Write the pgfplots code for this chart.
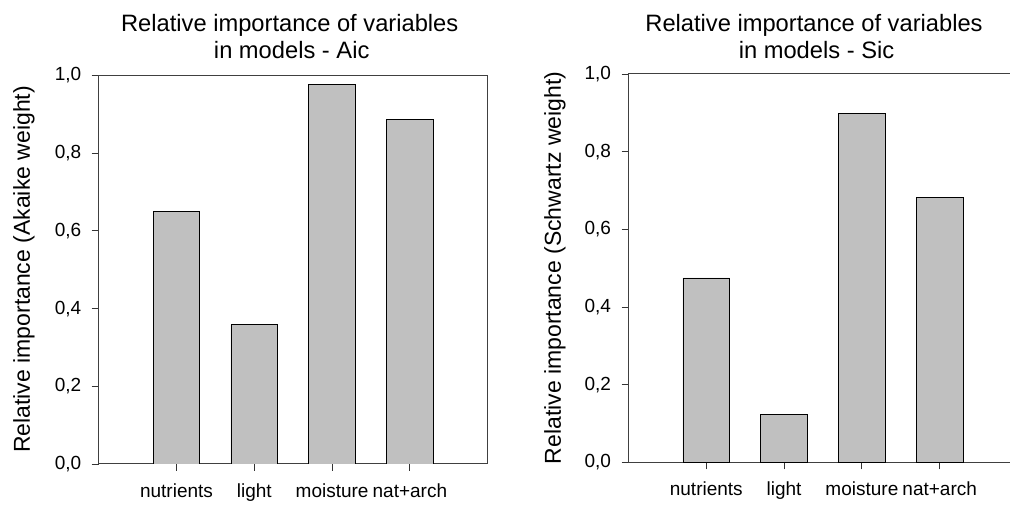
\documentclass[border=0pt]{standalone}
\usepackage{pgfplots}
\pgfplotsset{compat=1.18}
\usepackage{fontspec}
\setmainfont{Liberation Sans}
\definecolor{bargray}{RGB}{192,192,192}
\newcommand{\tickfont}{\fontsize{19}{22}\selectfont}
\newcommand{\labelfont}{\fontsize{23}{26}\selectfont}
\newcommand{\titlefont}{\fontsize{23.7}{27}\selectfont}
\pgfplotsset{relimp/.style={
  scale only axis, width=389pt, height=388.5pt,
  xmin=-1, xmax=4, ymin=0, ymax=1,
  xtick={0,1,2,3}, xticklabels={nutrients,light,moisture,nat+arch},
  ytick={0,0.2,0.4,0.6,0.8,1},
  tick align=outside, tick pos=left, major tick length=7pt,
  tick style={line width=0.9pt, color=black!80},
  axis line style={line width=1pt, color=black!75},
  /pgf/number format/use comma, /pgf/number format/fixed,
  /pgf/number format/fixed zerofill, /pgf/number format/precision=1,
  /pgf/number format/assume math mode=true,
  tick label style={font=\tickfont},
  xticklabel style={yshift=-9pt},
  yticklabel style={xshift=-7pt},
  ybar, bar width=0.6,
}}
\begin{document}
\begin{tikzpicture}[x=1pt,y=1pt]
\path[use as bounding box] (0,0) rectangle (1010,505);
\clip (0,0) rectangle (1010,505);
% left panel: Akaike weights
\begin{axis}[relimp, at={(98.7pt,41pt)}, anchor=south west]
\addplot[fill=bargray, draw=black, line width=0.9pt] coordinates {(0,0.651) (1,0.358) (2,0.978) (3,0.887)};
\end{axis}
% right panel: Schwartz weights
\begin{axis}[relimp, at={(628.5pt,42.5pt)}, anchor=south west]
\addplot[fill=bargray, draw=black, line width=0.9pt] coordinates {(0,0.475) (1,0.123) (2,0.898) (3,0.683)};
\end{axis}
%labels
\node[rotate=90, font=\labelfont] at (24,235.5) {Relative importance (Akaike weight)};
\node[rotate=90, font=\labelfont] at (555,237) {Relative importance (Schwartz weight)};
\node[anchor=base, font=\titlefont] at (289.7,473) {Relative importance of variables};
\node[anchor=base, font=\titlefont] at (291.7,446) {in models - Aic};
\node[anchor=base, font=\titlefont] at (814,473.3) {Relative importance of variables};
\node[anchor=base, font=\titlefont] at (816.5,446) {in models - Sic};
\end{tikzpicture}
\end{document}
